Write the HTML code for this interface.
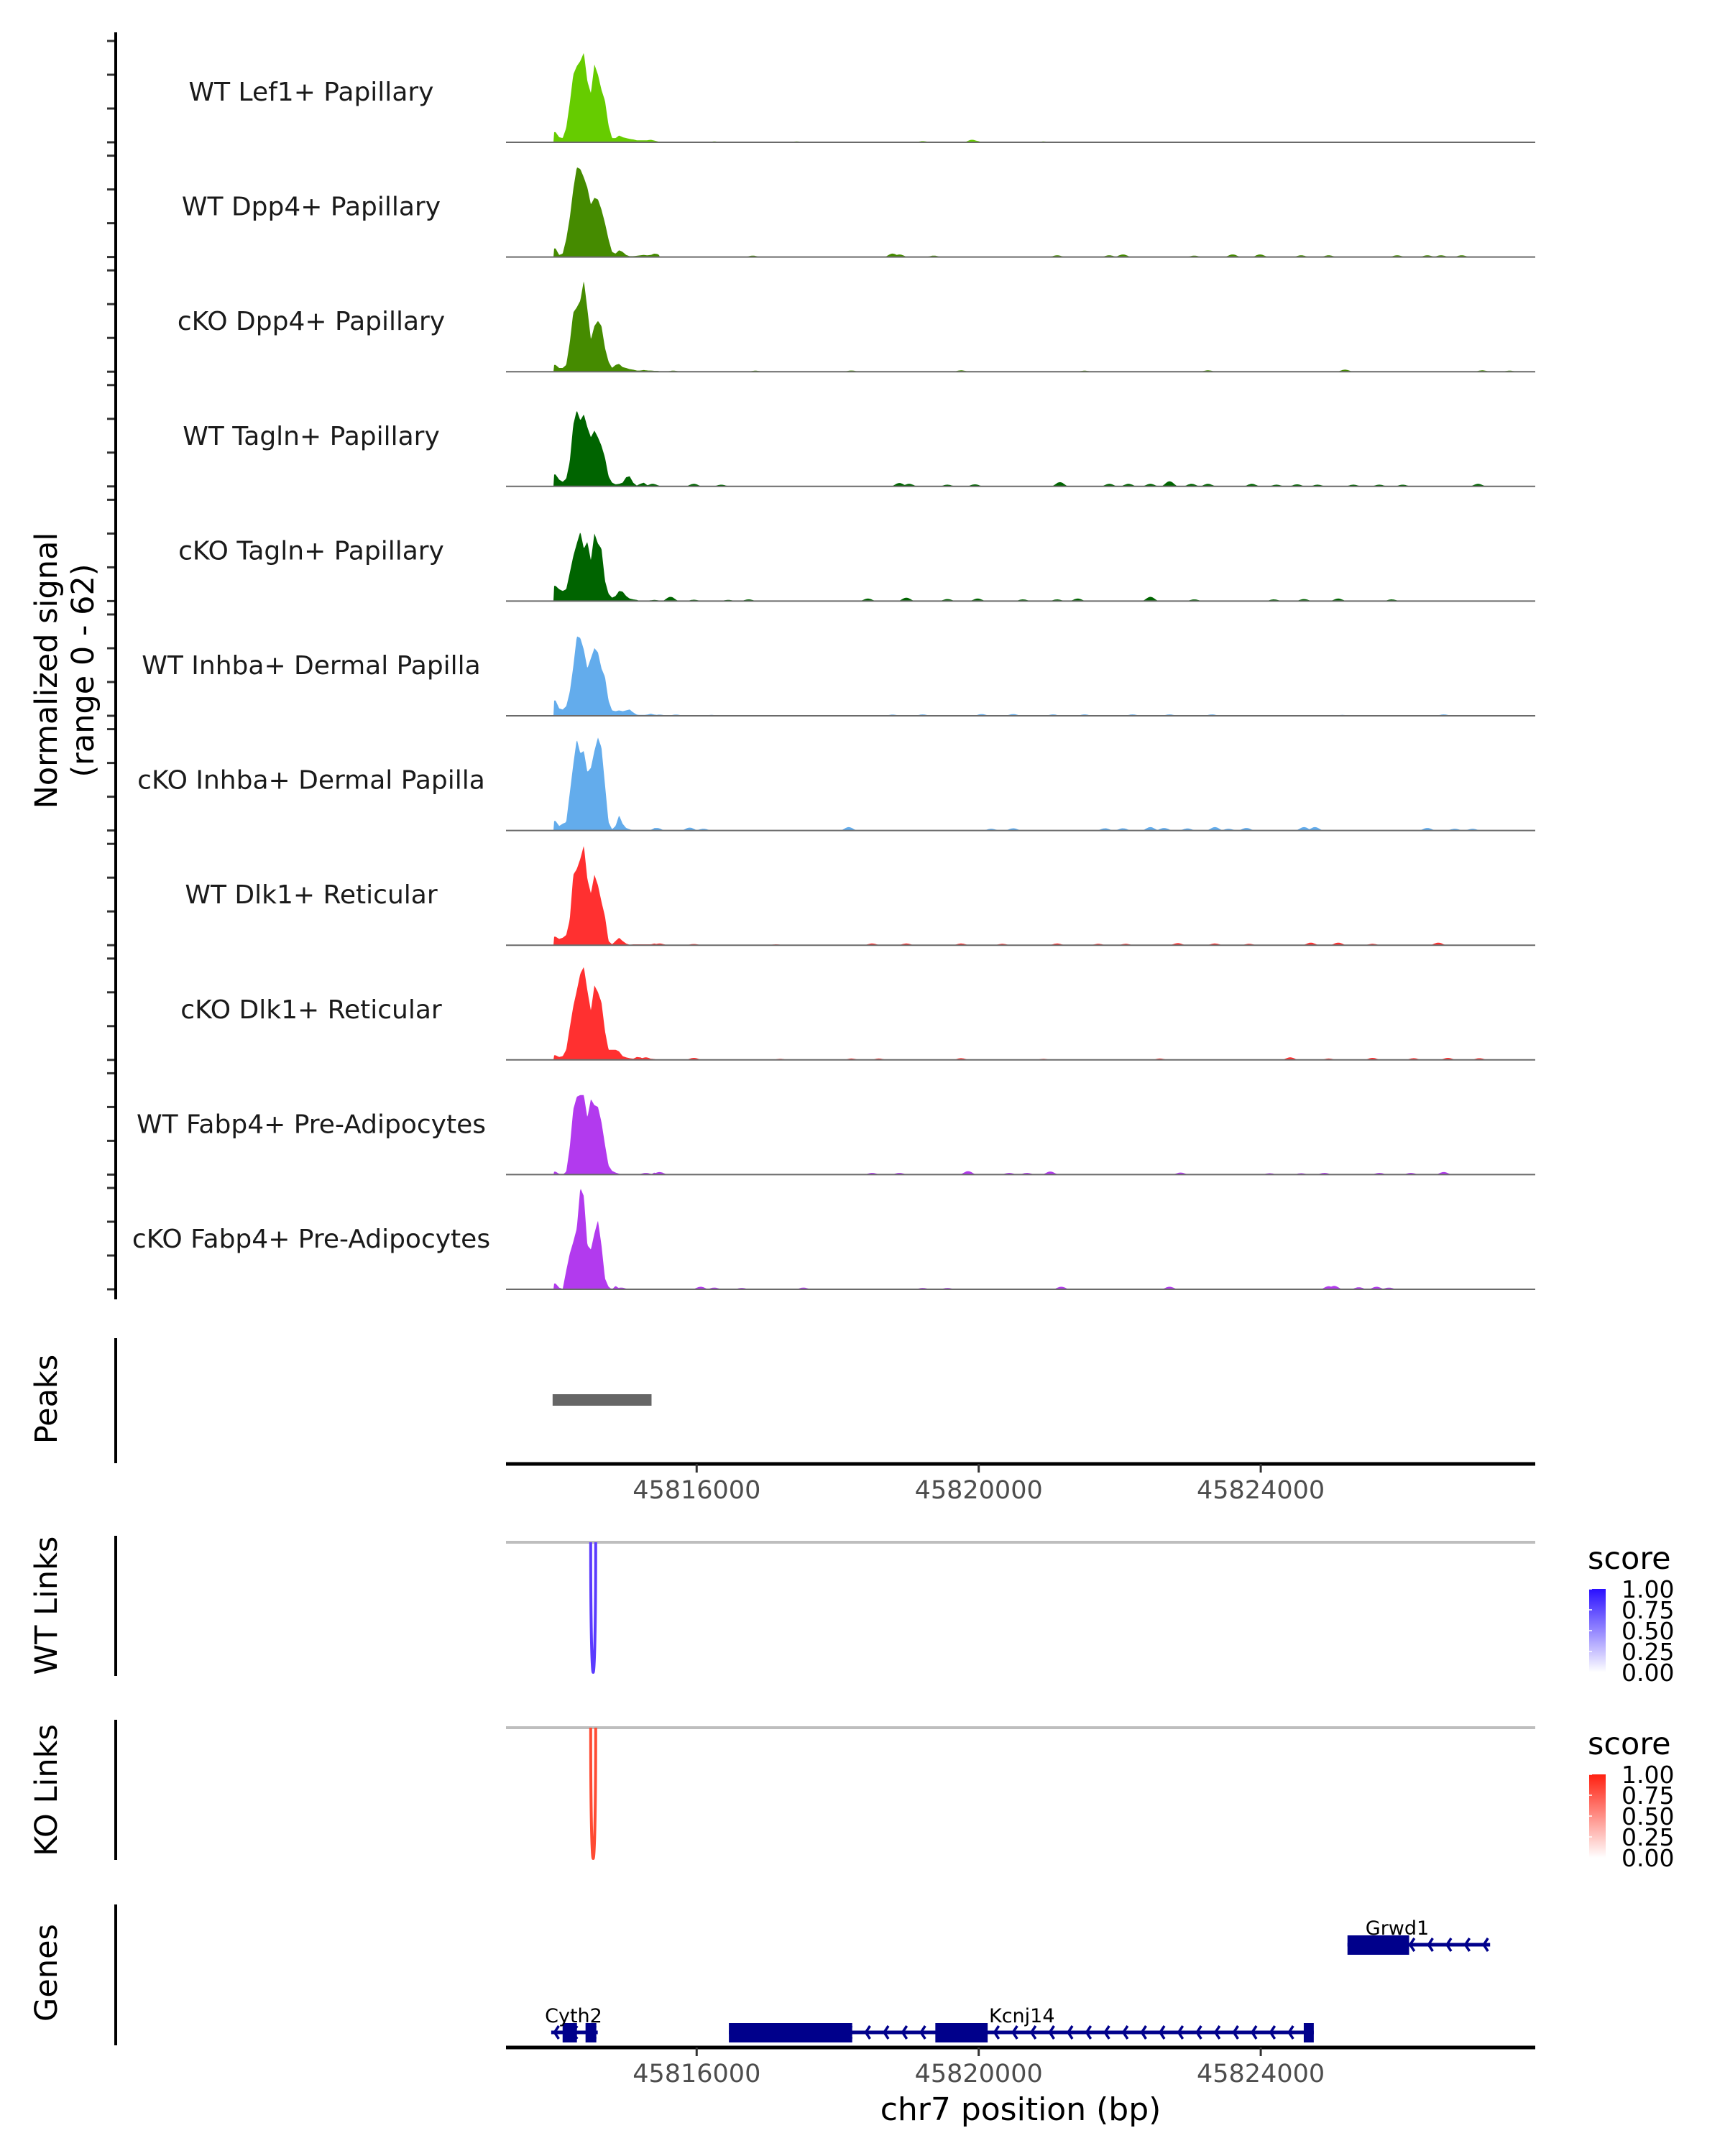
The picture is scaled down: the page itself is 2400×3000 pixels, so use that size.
<!DOCTYPE html>
<html><head><meta charset="utf-8">
<style>
html,body{margin:0;padding:0;background:#fff;}
svg{display:block;}
text{font-family:"DejaVu Sans","Liberation Sans",sans-serif;}
</style></head>
<body>
<svg id="chart" width="2400" height="3000" viewBox="0 0 2400 3000" xmlns="http://www.w3.org/2000/svg">
<rect width="2400" height="3000" fill="#fff"/>
<g id="g-cov"></g>
<g id="g-static"></g>
</svg>
<script>
// ---------- data ----------
const regionStart = 45813296;
const regionEnd = 45827893;
const axisTicks = [45816000, 45820000, 45824000];
const yRangeMax = 62;
const trackNames = ["WT Lef1+ Papillary","WT Dpp4+ Papillary","cKO Dpp4+ Papillary","WT Tagln+ Papillary","cKO Tagln+ Papillary","WT Inhba+ Dermal Papilla","cKO Inhba+ Dermal Papilla","WT Dlk1+ Reticular","cKO Dlk1+ Reticular","WT Fabp4+ Pre-Adipocytes","cKO Fabp4+ Pre-Adipocytes"];
const trackColors = ["#66CC00","#458B00","#458B00","#006400","#006400","#63ACEC","#63ACEC","#FF3030","#FF3030","#B23AEE","#B23AEE"];
const binStart = 45813975;
const binStep = 50;
const trackBins = [
 [6,3,2.5,8.5,23,40,45,48,53,36,29,46,40,31,24.5,10,2.5,2.5,4,3,2.5,2,1.7,1.2,1.2,1.2,1.2,1.5,1,0.5],
 [5,1.2,2,10.5,23,40,53,52,47,41,31,35,34,28,20,10.5,3,2,4,3,1.2,0.5,0.5,0.7,1,1.2,1,1.2,2,1.7],
 [4,2.2,2.2,4,17,35,38,42,54,37,19,27,30,27,14,6,2.2,4,4.6,2.7,2.2,1.5,1.2,0.7,0.7,1,0.7,0.7,0.5,0.5],
 [7,4,2.7,4.6,14.5,36.5,45,39,42.6,35,29,33,29,24,17,6,2.2,1.2,1.5,2.2,5.4,6,2.2,0.5,1.5,2.2,0.7,0,0.7,0.7],
 [9,7,6,7,16.6,26.5,34,41,31,35,24,40,34,31,12,4.4,2,3,6,5.6,3,1.5,1,0.7,0,0,0.2,0.5,0.7,0.5],
 [9,4.4,3.7,5.6,14,29,47,46,39,28,34,40,37.5,28,23,9,3.2,2.7,3.2,2.7,3.2,3.7,2,0.7,0.5,0.5,0.7,1.2,0.7,0.5],
 [5.6,2.7,4,5,22,39,54,45.6,47,34.5,37,47,55,49,27,5,0.7,2.7,9,4,1.5,0.7,0,0,0,0,0,0,1.5,1.5],
 [5,3.7,4.4,6,15,41.6,45,51,59,39,30.6,41.6,35.5,25.7,17,2.5,0.5,2.5,4.4,2.5,1,0.2,0.5,0.5,0.5,0.5,0.5,0.5,1,0.5],
 [2.7,1.7,2.2,6,19,31.6,41,51,55,41,29,44,40,34,17,6,6,6,5,2.2,1.5,1,0.7,1.7,1.5,0.7,0.7,0.7,0.5,0],
 [1.7,0.5,0,1.7,16,38.5,46,47,47,33.6,44.6,41,40,31,17.6,5.4,2.2,1.2,0.5,0,0,0,0,0,0,0.7,0,0,1.2,0],
 [3.4,1,0.2,11,21,28,36,60,55,26,23.5,33,40.7,26,6.4,1.5,0,2,0.5,0,0,0,0,0,0,0,0,0,0,0]
];
const trackBumpPos = [
 [45816251,45817418,45819207,45819907,45819946,45820918,45823835],
 [45816796,45818779,45818876,45819363,45821113,45821852,45822046,45823057,45823602,45823991,45824574,45824963,45825935,45826363,45826557,45826849],
 [45815279,45815668,45816835,45818196,45819751,45821502,45823252,45825196,45827141,45827529],
 [45815376,45815960,45816349,45818876,45819013,45819557,45819946,45821152,45821852,45822124,45822435,45822707,45823018,45823252,45823874,45824224,45824516,45824807,45825313,45825682,45826013,45827082],
 [45815629,45815960,45816446,45816738,45818429,45818974,45819557,45819985,45820627,45821113,45821404,45822435,45823057,45824185,45824613,45825099,45825857],
 [45815474,45815707,45816213,45818779,45819207,45820043,45820490,45821054,45821502,45822182,45822707,45823310,45825157,45826596],
 [45815435,45815901,45816096,45818157,45820179,45820490,45821793,45822046,45822435,45822629,45822960,45823349,45823543,45823796,45824613,45824768,45826363,45826752,45827004],
 [45815474,45815960,45817126,45818488,45818974,45819751,45820335,45821113,45821696,45822085,45822824,45823349,45823835,45824710,45825099,45825585,45826518],
 [45815279,45815960,45817185,45818196,45818585,45819751,45820918,45822571,45824418,45824963,45825585,45826168,45826654,45827102],
 [45815279,45815474,45818488,45818876,45819849,45820432,45820685,45821015,45822863,45824127,45824574,45824904,45825682,45826129,45826596],
 [45814929,45816057,45816251,45816640,45817515,45819207,45819557,45821171,45822707,45824963,45825041,45825391,45825643,45825818]
];
const trackBumpHt = [
 [0.5,0.5,0.7,1.5,1,0.5,0.3],
 [0.8,2,1.5,0.8,1,1,1.5,0.8,1.5,1.5,1,1,1,1,1,1],
 [0.8,0.6,0.6,0.7,0.8,0.6,0.8,1.2,0.8,0.6],
 [1.5,1.5,1,2,1.5,1,1.2,2.5,1.5,1.5,1.5,3,1.5,1.5,1.5,1,1.2,1,1,1,1,1.5],
 [2.5,0.8,0.7,1,1.5,2,1.2,1.5,1,1,1.5,2.5,1,1,1.2,1.5,1],
 [0.7,0.7,0.5,0.7,0.8,1,1,0.8,0.8,0.8,0.8,0.8,0.5,0.8],
 [1.5,1.7,1,2,1,1.3,1.3,1.3,2,1.5,1.2,2,1,1.5,2,2,1.5,1,1],
 [1,0.7,0.5,1,1,1,0.8,1,0.8,0.8,1.2,1,0.8,1.5,1.5,0.8,1.5],
 [1.5,1.2,0.6,0.8,0.8,1,0.6,0.8,1.5,0.8,1.2,1,1.2,1],
 [1,1.5,1,1,2,1,1,1.8,1.2,0.8,0.8,1,1,1,1.5],
 [1,1.5,1,0.8,1,0.8,0.8,1.5,1.5,1.8,2,1.2,1.5,1]
];
const peakStarts = [45813957];
const peakEnds = [45815360];
const linkStarts = [45814497];
const linkEnds = [45814568];
const geneNames = ["Cyth2","Kcnj14","Grwd1"];
const geneStarts = [45813937,45816457,45825230];
const geneEnds = [45814597,45824752,45827253];
const geneRows = [1,1,0];
const exonGene = [0,0,1,1,1,2];
const exonStarts = [45814099,45814424,45816457,45819385,45824610,45825230];
const exonEnds = [45814302,45814577,45818206,45820127,45824752,45826104];
const legendTicks = ["1.00","0.75","0.50","0.25","0.00"];

// ---------- layout ----------
const NS = "http://www.w3.org/2000/svg";
const X0 = 704, X1 = 2136;
const xs = bp => X0 + (bp - regionStart) / (regionEnd - regionStart) * (X1 - X0);
const bpx = x => regionStart + (x - X0) / (X1 - X0) * (regionEnd - regionStart);
const base0 = 198, trackGap = 159.6, trackH = 146;
const ys = (v, b) => b - Math.min(v, yRangeMax) / yRangeMax * trackH;

function mk(tag, attrs, parent, txt) {
  const e = document.createElementNS(NS, tag);
  for (const k in attrs) e.setAttribute(k, attrs[k]);
  if (txt !== undefined) e.textContent = txt;
  parent.appendChild(e);
  return e;
}
const gc = document.getElementById('g-cov');
const gs = document.getElementById('g-static');

function valueAt(t, bp) {
  let v = 0;
  const bins = trackBins[t];
  const f = (bp - binStart) / binStep;
  if (f >= 0 && f < bins.length) {
    const c = f - 0.5;
    let i = Math.floor(c);
    if (i < 0) v = bins[0];
    else if (i >= bins.length - 1) v = bins[bins.length - 1] * Math.max(0, 1 - (c - i));
    else v = bins[i] + (bins[i + 1] - bins[i]) * (c - i);
  }
  const P = trackBumpPos[t], H = trackBumpHt[t];
  for (let k = 0; k < P.length; k++) {
    const d = Math.abs(bp - P[k]);
    if (d < 130) v = Math.max(v, H[k] * 0.5 * (1 + Math.cos(Math.PI * d / 130)));
  }
  return v;
}

// coverage tracks
for (let t = 0; t < trackNames.length; t++) {
  const b = base0 + t * trackGap;
  let d = "M" + X0 + "," + b;
  for (let x = X0; x <= X1; x += 1) {
    d += " L" + x + "," + ys(valueAt(t, bpx(x)), b).toFixed(1);
  }
  d += " L" + X1 + "," + b + " Z";
  const p = mk('path', {d: d, fill: trackColors[t], stroke: 'none'}, gc);
  
  
  const bl = mk('line', {x1: X0, x2: X1, y1: b, y2: b, stroke: '#6a6a6a', 'stroke-width': 2}, gc);
  
  
  const lb = mk('text', {x: 433, y: b - 58, 'text-anchor': 'middle', 'font-size': 36, fill: '#1a1a1a'}, gc, trackNames[t]);
  
  
  for (let k = 0; k < 4; k++) {
    const tk = mk('line', {x1: 149, x2: 160, y1: b - k * 47, y2: b - k * 47, stroke: '#333', 'stroke-width': 3}, gc);
    
    
  }
}
const ya = mk('line', {x1: 161, x2: 161, y1: 45, y2: 1808, stroke: '#000', 'stroke-width': 4}, gs);



function rotLabel(txt, x, y, name, size) {
  const e = mk('text', {x: x, y: y, transform: 'rotate(-90 ' + x + ' ' + y + ')', 'text-anchor': 'middle', 'font-size': size || 43, fill: '#000'}, gs, txt);
  
  
}
rotLabel("Normalized signal", 79, 933, 'y-axis-title');
rotLabel("(range 0 - 62)", 130, 933, 'y-axis-range');

// peaks
rotLabel("Peaks", 79, 1947, 'peaks-label');
const pa = mk('line', {x1: 161, x2: 161, y1: 1862, y2: 2036, stroke: '#000', 'stroke-width': 4}, gs);


for (let i = 0; i < peakStarts.length; i++) {
  const r = mk('rect', {x: xs(peakStarts[i]), y: 1940, width: xs(peakEnds[i]) - xs(peakStarts[i]), height: 16, fill: '#666'}, gs);
  
  
}
function xAxis(y, nm) {
  const l = mk('line', {x1: X0, x2: X1, y1: y, y2: y, stroke: '#000', 'stroke-width': 5}, gs);
  
  
  for (const t of axisTicks) {
    const tk = mk('line', {x1: xs(t), x2: xs(t), y1: y, y2: y + 12, stroke: '#333', 'stroke-width': 3}, gs);
    
    
    const tl = mk('text', {x: xs(t), y: y + 48, 'text-anchor': 'middle', 'font-size': 35, fill: '#4d4d4d'}, gs, String(t));
    
    
  }
}
xAxis(2037, 'peaks-x-axis');

// links
function linkPanel(top, bottom, color, label, labelY, grad, legTop, axTop, axBot) {
  rotLabel(label, 79, labelY, label.toLowerCase().replace(' ', '-') + '-label');
  const a = mk('line', {x1: 161, x2: 161, y1: axTop, y2: axBot, stroke: '#000', 'stroke-width': 4}, gs);
  
  
  const g = mk('line', {x1: X0, x2: X1, y1: top, y2: top, stroke: '#bebebe', 'stroke-width': 4}, gs);
  
  
  for (let i = 0; i < linkStarts.length; i++) {
    const x1 = xs(linkStarts[i]), x2 = xs(linkEnds[i]);
    const c = top + (bottom - top) / 0.75;
    const p = mk('path', {d: `M${x1},${top} C${x1},${c} ${x2},${c} ${x2},${top}`, fill: 'none', stroke: color, 'stroke-width': 4}, gs);
    
    
  }
  const st = mk('text', {x: 2209, y: legTop - 28, 'font-size': 43, fill: '#000'}, gs, 'score');
  
  
  const defs = mk('defs', {}, gs);
  const lg = mk('linearGradient', {id: grad, x1: 0, y1: 1, x2: 0, y2: 0}, defs);
  mk('stop', {offset: 0, 'stop-color': '#ffffff'}, lg);
  mk('stop', {offset: 1, 'stop-color': color === '#5B3BFF' ? '#2A10FF' : '#FF2010'}, lg);
  const bar = mk('rect', {x: 2211, y: legTop, width: 23, height: 116, fill: `url(#${grad})`}, gs);
  
  
  for (let k = 0; k < legendTicks.length; k++) {
    const y = legTop + k * 29;
    const tl = mk('text', {x: 2256, y: y + 12, 'font-size': 33, fill: '#000'}, gs, legendTicks[k]);
    
    
    const tk = mk('line', {x1: 2211, x2: 2215, y1: y, y2: y, stroke: '#fff', 'stroke-width': 1.5}, gs);
    
    
  }
}
linkPanel(2146, 2327, '#5B3BFF', 'WT Links', 2234, 'gradWT', 2211, 2137, 2332);
linkPanel(2404, 2586, '#FF4B33', 'KO Links', 2491, 'gradKO', 2469, 2393, 2588);

// genes
rotLabel("Genes", 79, 2745, 'genes-label');
const ga = mk('line', {x1: 161, x2: 161, y1: 2650, y2: 2846, stroke: '#000', 'stroke-width': 4}, gs);


const rowY = [2706, 2828];
const GC = '#00008B';
for (let i = 0; i < geneNames.length; i++) {
  const y = rowY[geneRows[i]];
  const x1 = xs(geneStarts[i]), x2 = xs(geneEnds[i]);
  const l = mk('line', {x1: x1, x2: x2, y1: y, y2: y, stroke: GC, 'stroke-width': 5}, gs);
  
  
  for (let x = x2 - 8; x > x1 + 4; x -= 25.6) {
    const ch = mk('path', {d: `M${x + 5},${y - 9} L${x - 1},${y} L${x + 5},${y + 9}`, fill: 'none', stroke: GC, 'stroke-width': 3.5}, gs);
    
    
  }
}
for (let j = 0; j < exonStarts.length; j++) {
  const y = rowY[geneRows[exonGene[j]]];
  const r = mk('rect', {x: xs(exonStarts[j]), y: y - 13, width: xs(exonEnds[j]) - xs(exonStarts[j]), height: 27, fill: GC}, gs);
  
  
}
const labelX = [798, 1376, 1944];
const labelAnchor = ['middle', 'start', 'middle'];
for (let i = 0; i < geneNames.length; i++) {
  const y = rowY[geneRows[i]] - 14;
  const t = mk('text', {x: labelX[i], y: y, 'text-anchor': labelAnchor[i], 'font-size': 27, fill: '#000'}, gs, geneNames[i]);
  
  
}
xAxis(2849, 'genes-x-axis');
const xt = mk('text', {x: 1420, y: 2950, 'text-anchor': 'middle', 'font-size': 44, fill: '#000'}, gs, 'chr7 position (bp)');


</script>
</body></html>
